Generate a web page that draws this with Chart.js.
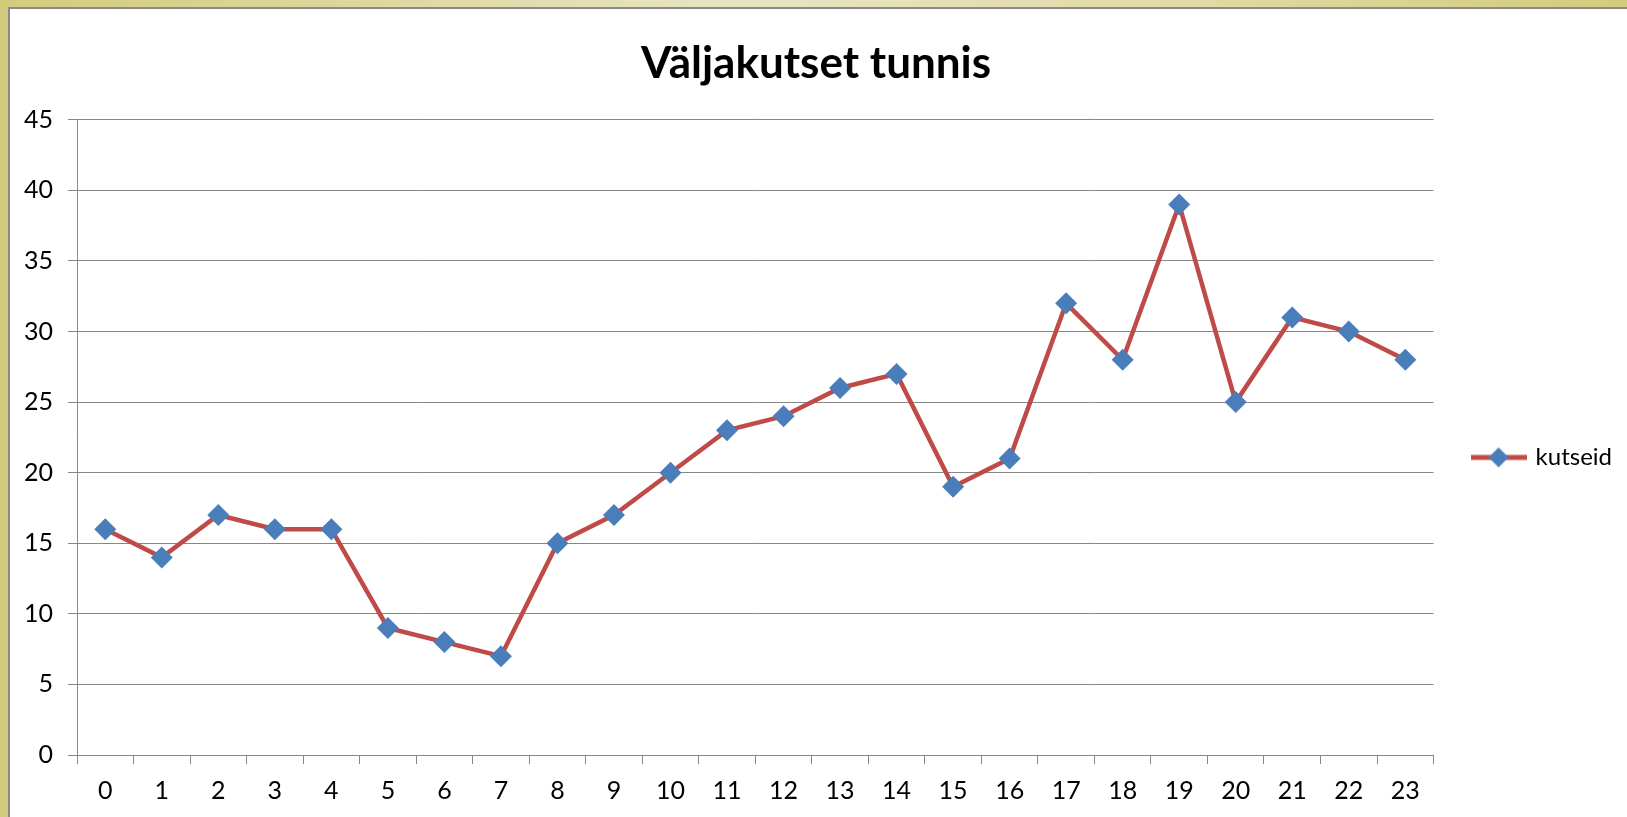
<!DOCTYPE html>
<html>
<head>
<meta charset="utf-8">
<script src="https://cdn.jsdelivr.net/npm/chart.js@4/dist/chart.umd.min.js"></script>
<style>
  html, body { margin: 0; padding: 0; background: #fff; }
  #frame { position: relative; width: 1627px; height: 817px; overflow: hidden; background: #fff; }
  #topbar { position: absolute; left: 0; top: 0; width: 1627px; height: 7px;
    background: linear-gradient(to right, #d3cb7c 0%, #e8e4c2 45%, #e2dcaa 70%, #d3cb7c 100%); }
  #leftbar { position: absolute; left: 0; top: 0; width: 8px; height: 817px; background: #d3cb7c; }
  #topline { position: absolute; left: 8px; top: 7px; width: 1619px; height: 2px; background: #8a8a8a; }
  #leftline { position: absolute; left: 8px; top: 7px; width: 2px; height: 810px; background: #8a8a8a; }
  #wrap { position: absolute; left: 10px; top: 9px; width: 1617px; height: 808px; }
</style>
</head>
<body>
<div id="frame">
  <div id="topbar"></div>
  <div id="leftbar"></div>
  <div id="topline"></div>
  <div id="leftline"></div>
  <div id="wrap"><canvas id="chart"></canvas></div>
</div>
<script>
const TITLE = "Väljakutset tunnis";
const SERIES_NAME = "kutseid";
const hours = ["0", "1", "2", "3", "4", "5", "6", "7", "8", "9", "10", "11",
    "12", "13", "14", "15", "16", "17", "18", "19", "20", "21", "22", "23"];
const calls = [16, 14, 17, 16, 16, 9, 8, 7, 15, 17, 20, 23,
    24, 26, 27, 19, 21, 32, 28, 39, 25, 31, 30, 28];

const LINE_COLOR = "#be4b48";
const MARKER_COLOR = "#4a7ebb";
const AXIS_COLOR = "#878787";
const FONT = "Lato, 'Open Sans', sans-serif";

// legend symbol: red line with a blue diamond, like Excel
const legendSymbol = document.createElement("canvas");
legendSymbol.width = 56;
legendSymbol.height = 24;
(() => {
    const c = legendSymbol.getContext("2d");
    c.strokeStyle = LINE_COLOR;
    c.lineWidth = 5;
    c.beginPath();
    c.moveTo(0, 12);
    c.lineTo(56, 12);
    c.stroke();
    c.fillStyle = MARKER_COLOR;
    c.beginPath();
    c.moveTo(28, 2);
    c.lineTo(38, 12);
    c.lineTo(28, 22);
    c.lineTo(18, 12);
    c.closePath();
    c.fill();
})();

Chart.defaults.font.family = FONT;
Chart.defaults.color = "#000";

new Chart(document.getElementById("chart"), {
    type: "line",
    data: {
        labels: hours,
        datasets: [{
            label: SERIES_NAME,
            data: calls,
            borderColor: LINE_COLOR,
            borderWidth: 4.5,
            backgroundColor: MARKER_COLOR,
            pointStyle: "rectRot",
            pointRadius: 11,
            pointHoverRadius: 11,
            pointBackgroundColor: MARKER_COLOR,
            pointBorderColor: MARKER_COLOR,
            pointBorderWidth: 0,
            tension: 0,
            fill: false
        }]
    },
    options: {
        responsive: true,
        maintainAspectRatio: false,
        animation: false,
        layout: { padding: { left: 0, right: 5, top: 0, bottom: 0 } },
        scales: {
            x: {
                offset: true,
                grid: {
                    offset: true,
                    drawOnChartArea: false,
                    drawTicks: true,
                    tickLength: 9,
                    color: AXIS_COLOR,
                    lineWidth: 1
                },
                border: { color: AXIS_COLOR, width: 1 },
                ticks: { font: { size: 25 }, padding: 12, maxRotation: 0, autoSkip: false },
                afterFit: (scale) => { scale.height = 62; }
            },
            y: {
                min: 0,
                max: 45,
                grid: { color: AXIS_COLOR, lineWidth: 1, tickLength: 9 },
                border: { color: AXIS_COLOR, width: 1 },
                ticks: { stepSize: 5, font: { size: 25 }, padding: 15 },
                afterFit: (scale) => { scale.width = 67; }
            }
        },
        plugins: {
            title: {
                display: true,
                text: TITLE,
                font: { size: 44, weight: "bold" },
                color: "#000",
                padding: { top: 28, bottom: 30 }
            },
            legend: {
                position: "right",
                title: { display: true, text: " ", font: { size: 14 }, padding: 36 },
                labels: {
                    usePointStyle: true,
                    pointStyleWidth: 50,
                    padding: 40,
                    font: { size: 24 },
                    color: "#000",
                    generateLabels: (chart) => chart.data.datasets.map((ds, i) => ({
                        text: ds.label,
                        pointStyle: legendSymbol,
                        fillStyle: MARKER_COLOR,
                        strokeStyle: LINE_COLOR,
                        lineWidth: 0,
                        hidden: false,
                        datasetIndex: i
                    }))
                }
            },
            tooltip: { enabled: false }
        }
    }
});
</script>
</body>
</html>
